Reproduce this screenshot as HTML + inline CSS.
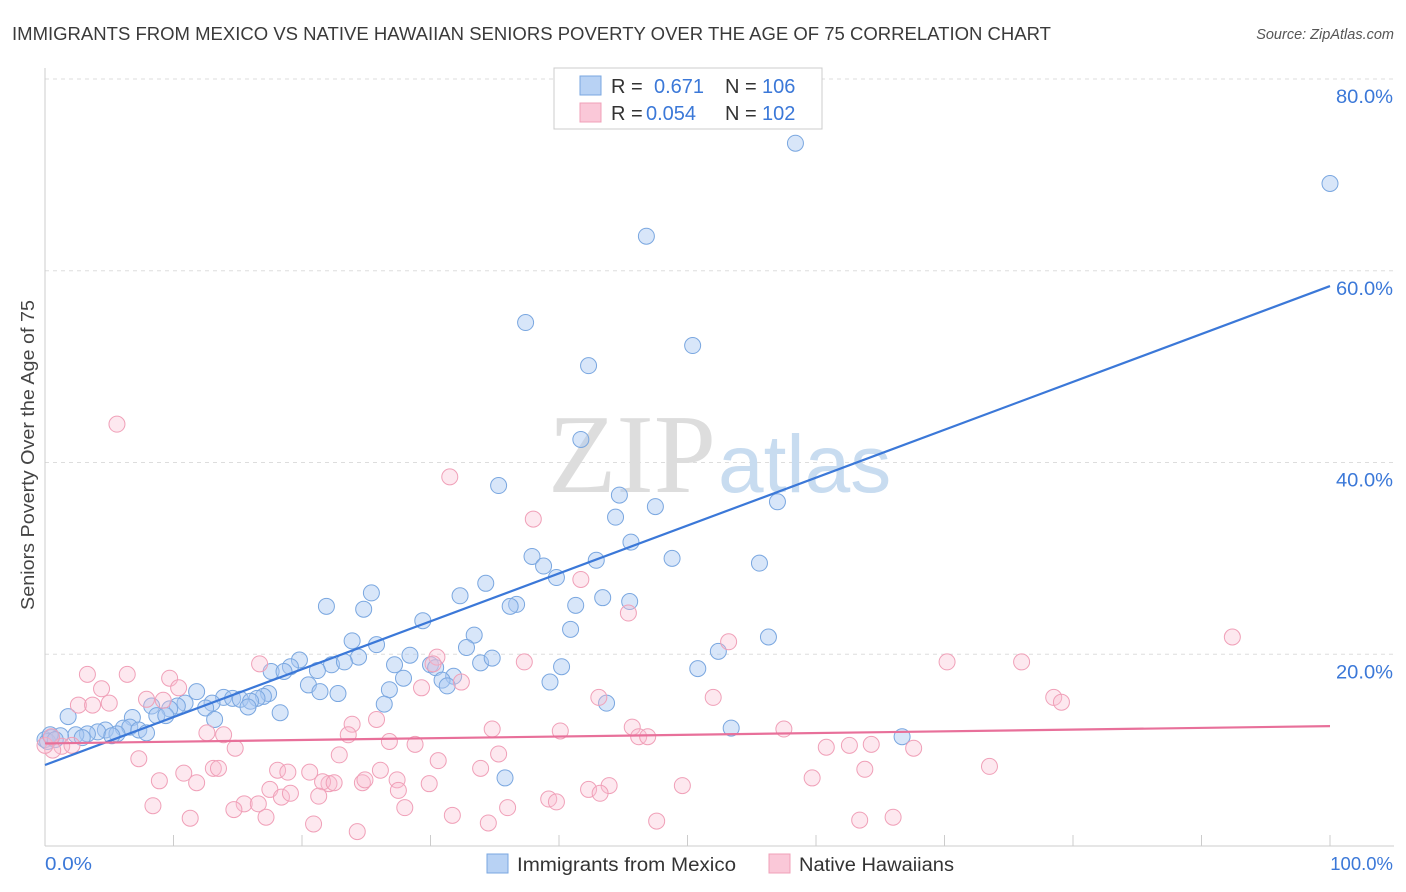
<!DOCTYPE html>
<html><head><meta charset="utf-8"><style>
body{margin:0;background:#fff;font-family:"Liberation Sans",sans-serif;}
#wrap{position:relative;width:1406px;height:892px;overflow:hidden;}
</style></head><body>
<div id="wrap">
<svg id="svg" width="1406" height="892" xmlns="http://www.w3.org/2000/svg">
<text x="12" y="40" font-size="18" fill="#3a3a3a" textLength="1039" lengthAdjust="spacingAndGlyphs">IMMIGRANTS FROM MEXICO VS NATIVE HAWAIIAN SENIORS POVERTY OVER THE AGE OF 75 CORRELATION CHART</text>
<text x="1394" y="39" font-size="14.5" fill="#555" font-style="italic" text-anchor="end">Source: ZipAtlas.com</text>
<g id="grid"></g>
<text x="716" y="492" font-size="112" fill="#ddd" text-anchor="end" font-family="Liberation Serif,serif">ZIP</text>
<text x="718" y="492" font-size="82" fill="#c8dcf0">atlas</text>
<g id="pts"></g>
<g id="lines"></g>
<text x="34" y="455" font-size="18.5" fill="#444" text-anchor="middle" textLength="310" lengthAdjust="spacingAndGlyphs" transform="rotate(-90 34 455)">Seniors Poverty Over the Age of 75</text>
<text x="45" y="870" font-size="18.5" fill="#3b78d8" textLength="47" lengthAdjust="spacingAndGlyphs">0.0%</text>
<text x="1393" y="870" font-size="18.5" fill="#3b78d8" text-anchor="end">100.0%</text>
<g>
<rect x="554" y="68" width="268" height="61" fill="#fff" stroke="#ccc"/>
<rect x="580" y="76" width="21" height="19" fill="#b8d2f4" stroke="#7aa7e0"/>
<rect x="580" y="103" width="21" height="19" fill="#fac8d8" stroke="#f0a0b8"/>
<text x="611" y="93" font-size="20" fill="#333">R = <tspan x="654" fill="#3b78d8">0.671</tspan><tspan x="725" fill="#333">N = </tspan><tspan x="762" fill="#3b78d8">106</tspan></text>
<text x="611" y="120" font-size="20" fill="#333">R = <tspan x="646" fill="#3b78d8">0.054</tspan><tspan x="725" fill="#333">N = </tspan><tspan x="762" fill="#3b78d8">102</tspan></text>
</g>
<g>
<rect x="487" y="854" width="21" height="19" fill="#b8d2f4" stroke="#7aa7e0"/>
<text x="517" y="871" font-size="19" fill="#333" textLength="219" lengthAdjust="spacingAndGlyphs">Immigrants from Mexico</text>
<rect x="769" y="854" width="21" height="19" fill="#fac8d8" stroke="#f0a0b8"/>
<text x="799" y="871" font-size="19" fill="#333" textLength="155" lengthAdjust="spacingAndGlyphs">Native Hawaiians</text>
</g>
</svg>
</div>
<script>
const yTicks=[20,40,60,80];
const yTickLabels=["20.0%","40.0%","60.0%","80.0%"];
const xTicks=[0,10,20,30,40,50,60,70,80,90,100];
const blueX=[58.4,100,46.8,37.4,50.4,42.3,41.7,35.3,44.7,47.5,57.0,44.4,45.6,37.9,42.9,48.8,38.8,55.6,39.8,34.3,25.4,21.9,24.8,32.3,43.4,45.5,36.7,36.2,41.3,29.4,40.9,33.4,23.9,25.8,56.3,32.8,52.4,19.8,24.4,28.4,22.3,23.3,19.1,27.2,30.0,33.9,34.8,40.2,30.4,17.6,21.2,18.6,50.8,27.9,31.8,30.9,31.3,39.3,20.5,26.8,21.4,22.8,11.8,17.4,17.0,13.9,14.6,15.2,16.5,16.0,13.0,10.9,10.3,8.3,12.5,9.7,15.8,26.4,43.7,18.3,13.2,6.8,1.8,8.7,9.4,6.1,6.6,7.3,4.7,4.1,3.3,5.6,7.9,2.4,1.2,2.9,5.2,0.5,0,0.2,53.4,66.7,35.8,0.4,0.8];
const blueY=[73.3,69.1,63.6,54.6,52.2,50.1,42.4,37.6,36.6,35.4,35.9,34.3,31.7,30.2,29.8,30.0,29.2,29.5,28.0,27.4,26.4,25.0,24.7,26.1,25.9,25.5,25.2,25.0,25.1,23.5,22.6,22.0,21.4,21.0,21.8,20.7,20.3,19.4,19.7,19.9,18.9,19.2,18.7,18.9,18.9,19.1,19.6,18.7,18.6,18.2,18.3,18.2,18.5,17.5,17.7,17.3,16.7,17.1,16.8,16.3,16.1,15.9,16.1,15.9,15.6,15.5,15.4,15.3,15.4,15.1,14.9,14.9,14.6,14.6,14.4,14.3,14.5,14.8,14.9,13.9,13.2,13.4,13.5,13.6,13.6,12.3,12.4,12.1,12.1,11.9,11.7,11.7,11.8,11.6,11.5,11.3,11.5,11.3,11.1,10.9,12.3,11.4,7.1,11.6,11.1];
const pinkX=[5.6,31.5,38.0,41.7,45.4,53.2,92.4,70.2,76.0,37.3,30.5,30.2,32.4,3.3,6.4,9.7,10.4,4.4,16.7,29.3,78.5,79.1,43.1,52.0,7.9,9.2,5.0,2.6,3.7,25.8,23.9,34.8,45.7,40.1,57.5,46.2,46.9,12.6,13.9,23.6,26.8,28.8,60.8,62.6,64.3,67.6,14.8,35.3,22.9,7.3,1.3,0.6,2.1,0,0.5,30.6,59.7,63.8,73.5,13.1,13.5,18.1,10.8,18.9,20.6,26.1,33.9,8.9,11.8,22.1,24.7,27.4,29.9,21.6,22.5,24.9,27.5,49.6,42.3,43.9,17.5,15.5,16.6,18.4,19.1,21.3,8.4,28.0,39.2,39.8,43.2,14.7,17.2,31.7,36.0,11.3,20.9,34.5,47.6,63.4,66.0,24.3];
const pinkY=[44.0,38.5,34.1,27.8,24.3,21.3,21.8,19.2,19.2,19.2,19.7,19.0,17.1,17.9,17.9,17.5,16.5,16.4,19.0,16.5,15.5,15.0,15.5,15.5,15.3,15.2,14.9,14.7,14.7,13.2,12.7,12.2,12.4,12.0,12.2,11.4,11.4,11.8,11.6,11.6,10.9,10.6,10.3,10.5,10.6,10.2,10.2,9.6,9.5,9.1,10.4,10.0,10.5,10.5,11.4,8.9,7.1,8.0,8.3,8.1,8.1,7.9,7.6,7.7,7.7,7.9,8.1,6.8,6.6,6.5,6.6,6.9,6.5,6.7,6.6,6.9,5.8,6.3,5.9,6.3,5.9,4.4,4.4,5.1,5.5,5.2,4.2,4.0,4.9,4.6,5.5,3.8,3.0,3.2,4.0,2.9,2.3,2.4,2.6,2.7,3.0,1.5];
const blueLine=[8.45,58.4];
const pinkLine=[10.7,12.5];

const NS="http://www.w3.org/2000/svg";
const X0=45,X1=1330,Y0=846,Y80=79;
const xs=v=>X0+(X1-X0)*v/100;
const ys=v=>Y0-(Y0-Y80)*v/80;
function mk(tag,attrs,parent){const e=document.createElementNS(NS,tag);for(const k in attrs)e.setAttribute(k,attrs[k]);parent.appendChild(e);return e;}
const grid=document.getElementById('grid');
yTicks.forEach((t,i)=>{
  const l=mk('line',{x1:X0,x2:1394,y1:ys(t),y2:ys(t),stroke:'#ddd','stroke-dasharray':'4,4'},grid);
  
  
  const tx=mk('text',{x:1393,y:ys(t)+24,'font-size':19,fill:'#3b78d8','text-anchor':'end',textLength:57,lengthAdjust:'spacingAndGlyphs'},grid);
  tx.textContent=yTickLabels[i];
  
  
});
const ax=mk('line',{x1:X0,x2:X0,y1:68,y2:Y0,stroke:'#ccc'},grid);


const bx=mk('line',{x1:X0,x2:1394,y1:Y0,y2:Y0,stroke:'#ccc'},grid);


xTicks.forEach(t=>{
  const l=mk('line',{x1:xs(t),x2:xs(t),y1:Y0-11,y2:Y0,stroke:'#ccc'},grid);
  
  
});
const pts=document.getElementById('pts');
blueX.forEach((v,i)=>{
  const c=mk('circle',{cx:xs(v),cy:ys(blueY[i]),r:8,fill:'rgba(168,200,242,0.45)',stroke:'#7aa7e0','stroke-width':1},pts);
  
  
});
pinkX.forEach((v,i)=>{
  const c=mk('circle',{cx:xs(v),cy:ys(pinkY[i]),r:8,fill:'rgba(248,190,210,0.35)',stroke:'#f0a0b8','stroke-width':1},pts);
  
  
});
const lines=document.getElementById('lines');
const bl=mk('line',{x1:xs(0),y1:ys(blueLine[0]),x2:xs(100),y2:ys(blueLine[1]),stroke:'#3b78d8','stroke-width':2.2},lines);


const pl=mk('line',{x1:xs(0),y1:ys(pinkLine[0]),x2:xs(100),y2:ys(pinkLine[1]),stroke:'#e8709a','stroke-width':2.2},lines);


</script>
</body></html>
